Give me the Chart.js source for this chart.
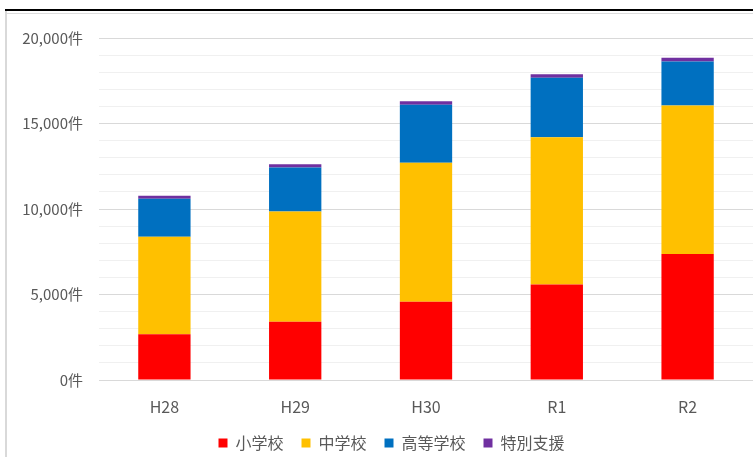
<!DOCTYPE html>
<html>
  <head>
    <title>件数の推移</title>
    <script src="https://cdn.jsdelivr.net/npm/chart.js"></script>
    <style>
      body {
        margin: 0;
        background: #fff;
      }
      #wrap {
        position: relative;
        width: 753px;
        height: 457px;
        overflow: hidden;
      }
      #chart {
        position: absolute;
        left: 0;
        top: 0;
      }
      /* frame around the picture */
      .topline {
        position: absolute;
        left: 5px;
        top: 9px;
        width: 748px;
        height: 2px;
        background: #000;
      }
      .innerline {
        position: absolute;
        left: 5px;
        top: 13px;
        width: 748px;
        height: 1px;
        background: #dcdcdc;
      }
      .leftline {
        position: absolute;
        left: 5px;
        top: 11px;
        width: 2px;
        height: 446px;
        background: #d9d9d9;
      }
    </style>
  </head>
  <body>
    <div id="wrap">
      <canvas id="chart" width="753" height="461"></canvas>
      <div class="topline"></div>
      <div class="innerline"></div>
      <div class="leftline"></div>
    </div>

    <script>
      const years = ["H28", "H29", "H30", "R1", "R2"];
      const seriesNames = ["小学校", "中学校", "高等学校", "特別支援"];
      const elementary = [2670, 3400, 4570, 5580, 7370];
      const juniorHigh = [5710, 6450, 8140, 8610, 8680];
      const highSchool = [2220, 2570, 3380, 3480, 2570];
      const special = [180, 190, 210, 210, 220];
      const colors = ["#FF0000", "#FFC000", "#0070C0", "#7030A0"];

      const yMax = 20000;
      const yStep = 1000;
      const labelStep = 5000;

      const textColor = "#595959";
      const font = "'Noto Sans CJK JP', 'Noto Sans', sans-serif";

      function fmt(v) {
        return String(v).replace(/\B(?=(\d{3})+(?!\d))/g, ",") + "件";
      }

      const values = [elementary, juniorHigh, highSchool, special];

      // legend in the original sits a little right of centre
      const legendShift = {
        id: "legendShift",
        afterLayout(chart) {
          chart.legend.left += 15;
          chart.legend.right += 15;
        },
      };

      const chart = new Chart(document.getElementById("chart"), {
        type: "bar",
        data: {
          labels: years,
          datasets: values.map((d, i) => ({
            label: seriesNames[i],
            data: d,
            backgroundColor: colors[i],
            borderWidth: 0,
            barPercentage: 0.4,
            categoryPercentage: 1,
          })),
        },
        options: {
          responsive: false,
          animation: false,
          layout: {
            padding: { top: 38, right: 0, left: 0, bottom: 0 },
          },
          plugins: {
            tooltip: { enabled: false },
            legend: {
              position: "bottom",
              labels: {
                color: textColor,
                font: { family: font, size: 16 },
                boxWidth: 9,
                boxHeight: 9,
                padding: 18,
              },
            },
          },
          scales: {
            x: {
              stacked: true,
              grid: { display: false },
              border: { display: false },
              ticks: {
                color: textColor,
                font: { family: font, size: 16 },
                padding: 9,
              },
              afterFit: (scale) => {
                scale.height = 37;
              },
            },
            y: {
              stacked: true,
              min: 0,
              max: yMax,
              border: { display: false },
              grid: {
                drawTicks: false,
                color: (ctx) =>
                  ctx.tick && ctx.tick.value % labelStep === 0
                    ? "#d9d9d9"
                    : "#f0f0f0",
              },
              ticks: {
                stepSize: yStep,
                autoSkip: false,
                color: textColor,
                font: { family: font, size: 15 },
                padding: 16,
                callback: (v) => (v % labelStep === 0 ? fmt(v) : ""),
              },
              afterFit: (scale) => {
                scale.width = 99;
              },
            },
          },
        },
        plugins: [legendShift],
      });
    </script>
  </body>
</html>
